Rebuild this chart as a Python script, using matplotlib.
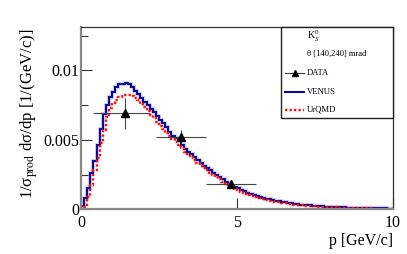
import numpy as np
import matplotlib
matplotlib.use("Agg")
import matplotlib.pyplot as plt
from matplotlib.patches import Rectangle
from matplotlib.lines import Line2D

plt.rcParams['font.family'] = ['Liberation Serif', 'DejaVu Serif']
plt.rcParams['mathtext.fontset'] = 'stix'

# 100 bins of 0.1 GeV/c between 0 and 10
bin_edges = np.linspace(0, 10, 101)

# VENUS, values in units of 1e-3
venus = [
    0.24, 0.79, 1.51, 2.59, 3.50, 4.63, 5.75, 6.90, 7.50, 8.10,
    8.47, 8.80, 9.00, 9.05, 9.10, 9.00, 8.80, 8.55, 8.30, 8.05,
    7.75, 7.50, 7.25, 7.00, 6.70, 6.45, 6.20, 5.90, 5.55, 5.30,
    5.15, 5.00, 4.60, 4.35, 4.15, 3.95, 3.75, 3.55, 3.35, 3.15,
    2.95, 2.80, 2.60, 2.45, 2.30, 2.15, 2.00, 1.85, 1.70, 1.60,
    1.50, 1.40, 1.30, 1.20, 1.12, 1.05, 0.97, 0.90, 0.83, 0.77,
    0.72, 0.66, 0.62, 0.57, 0.53, 0.49, 0.46, 0.42, 0.40, 0.37,
    0.34, 0.32, 0.30, 0.28, 0.26, 0.24, 0.22, 0.21, 0.19, 0.18,
    0.17, 0.16, 0.15, 0.14, 0.13, 0.12, 0.115, 0.11, 0.10, 0.095,
    0.09, 0.085, 0.08, 0.075, 0.07, 0.065, 0.06, 0.06, 0.055, 0.05,
]

# UrQMD, values in units of 1e-3
urqmd = [
    0.05, 0.17, 0.86, 1.75, 2.83, 3.67, 4.75, 5.71, 6.67, 7.30,
    7.63, 7.90, 8.10, 8.20, 8.23, 8.25, 8.15, 8.00, 7.85, 7.60,
    7.35, 7.10, 6.80, 6.55, 6.30, 6.00, 5.75, 5.50, 5.25, 5.05,
    4.85, 4.63, 4.40, 4.15, 3.95, 3.75, 3.55, 3.35, 3.15, 2.95,
    2.80, 2.60, 2.45, 2.30, 2.15, 2.00, 1.85, 1.72, 1.60, 1.48,
    1.38, 1.27, 1.18, 1.10, 1.02, 0.94, 0.87, 0.80, 0.74, 0.68,
    0.63, 0.58, 0.54, 0.50, 0.46, 0.43, 0.40, 0.37, 0.34, 0.32,
    0.29, 0.27, 0.25, 0.23, 0.22, 0.20, 0.19, 0.17, 0.16, 0.15,
    0.14, 0.13, 0.12, 0.11, 0.105, 0.10, 0.09, 0.085, 0.08, 0.075,
    0.07, 0.065, 0.06, 0.055, 0.05, 0.048, 0.045, 0.042, 0.04, 0.038,
]

# measured points
data_p = [1.4, 3.2, 4.8]
data_v = [6.92, 5.23, 1.80]
data_p_lo = [1.0, 0.8, 0.8]
data_p_hi = [0.8, 0.8, 0.8]
data_v_err = [1.1, 0.48, 0.2]

venus = np.array(venus) * 1e-3
urqmd = np.array(urqmd) * 1e-3
data_v = np.array(data_v) * 1e-3
data_v_err = np.array(data_v_err) * 1e-3

W, H = 407, 254
fig = plt.figure(figsize=(W / 100, H / 100), dpi=100)
ax = fig.add_axes([81 / W, 1 - 209.3 / H, (393 - 81) / W, (209.3 - 27.3) / H])

# venus with a faint halo
ax.stairs(venus, bin_edges, color='#aab3ee', lw=3.0, alpha=0.55)
ax.stairs(venus, bin_edges, color='#0a0a96', lw=1.5)
ax.stairs(urqmd, bin_edges, color='#ff1010', lw=1.7, linestyle=(0, (1, 0.9)))

ax.errorbar(data_p, data_v, xerr=[data_p_lo, data_p_hi], yerr=data_v_err,
            fmt='^', color='black', ms=5.5, ecolor='#444444', elinewidth=0.8,
            capsize=0, zorder=5)

ax.set_xlim(0, 10)
ax.set_ylim(0, 0.01311)
ax.set_xticks([0, 5, 10])
ax.set_xticklabels(['0', '5', '10'])
ax.set_yticks([0, 0.005, 0.01])
ax.set_yticklabels(['0', '0.005', '0.01'])
ax.set_yticks([0.0025, 0.0075, 0.0125], minor=True)
ax.tick_params(which='major', direction='in', length=8, width=0.8,
               color='#333333', labelsize=11.5)
ax.tick_params(which='minor', direction='in', length=5, width=0.8,
               color='#333333')
ax.tick_params(axis='x', pad=4)
ax.tick_params(axis='y', pad=1)
for side in ['left', 'bottom']:
    ax.spines[side].set_color('#888888')
    ax.spines[side].set_linewidth(1.6)
for side in ['top', 'right']:
    ax.spines[side].set_color('#333333')
    ax.spines[side].set_linewidth(0.9)

fig.text(29 / W, 1 - 114 / H, r'1/σ$_{\rm prod}$ dσ/dp [1/(GeV/c)]',
         rotation=90, ha='center', va='center', fontsize=12)
fig.text(393 / W, 1 - 241 / H, 'p [GeV/c]', ha='right', va='center',
         fontsize=11.5)

# legend box
box = Rectangle((281 / W, 1 - 118 / H), (393 - 281) / W, (118 - 27.3) / H,
                transform=fig.transFigure, facecolor='white',
                edgecolor='#222222', lw=1.0, zorder=10)
fig.add_artist(box)
fs = 6.2
tx = 307 / W
fig.text(tx, 1 - 36 / H, r'K$^0_S$', fontsize=fs + 1, va='center', zorder=11)
fig.text(tx, 1 - 54 / H, 'θ [140,240] mrad', fontsize=fs, va='center', zorder=11)
rows = [('DATA', 73), ('VENUS', 91.5), ('UrQMD', 109.5)]
for label, yy in rows:
    fig.text(tx, 1 - yy / H, label, fontsize=fs, va='center', zorder=11)
y0 = 1 - 73 / H
fig.add_artist(Line2D([285 / W, 304 / W], [y0, y0], color='#444444', lw=0.8,
                      transform=fig.transFigure, zorder=11))
fig.add_artist(Line2D([294.5 / W], [y0], marker='^', color='black', ms=5,
                      transform=fig.transFigure, zorder=12))
y1 = 1 - 91.5 / H
fig.add_artist(Line2D([285 / W, 304 / W], [y1, y1], color='#0a0a96', lw=1.5,
                      transform=fig.transFigure, zorder=11))
y2 = 1 - 109.5 / H
fig.add_artist(Line2D([285 / W, 304 / W], [y2, y2], color='#ff1010', lw=1.7,
                      linestyle=(0, (1, 0.9)), transform=fig.transFigure,
                      zorder=11))

fig.savefig('out.png', dpi=100)
